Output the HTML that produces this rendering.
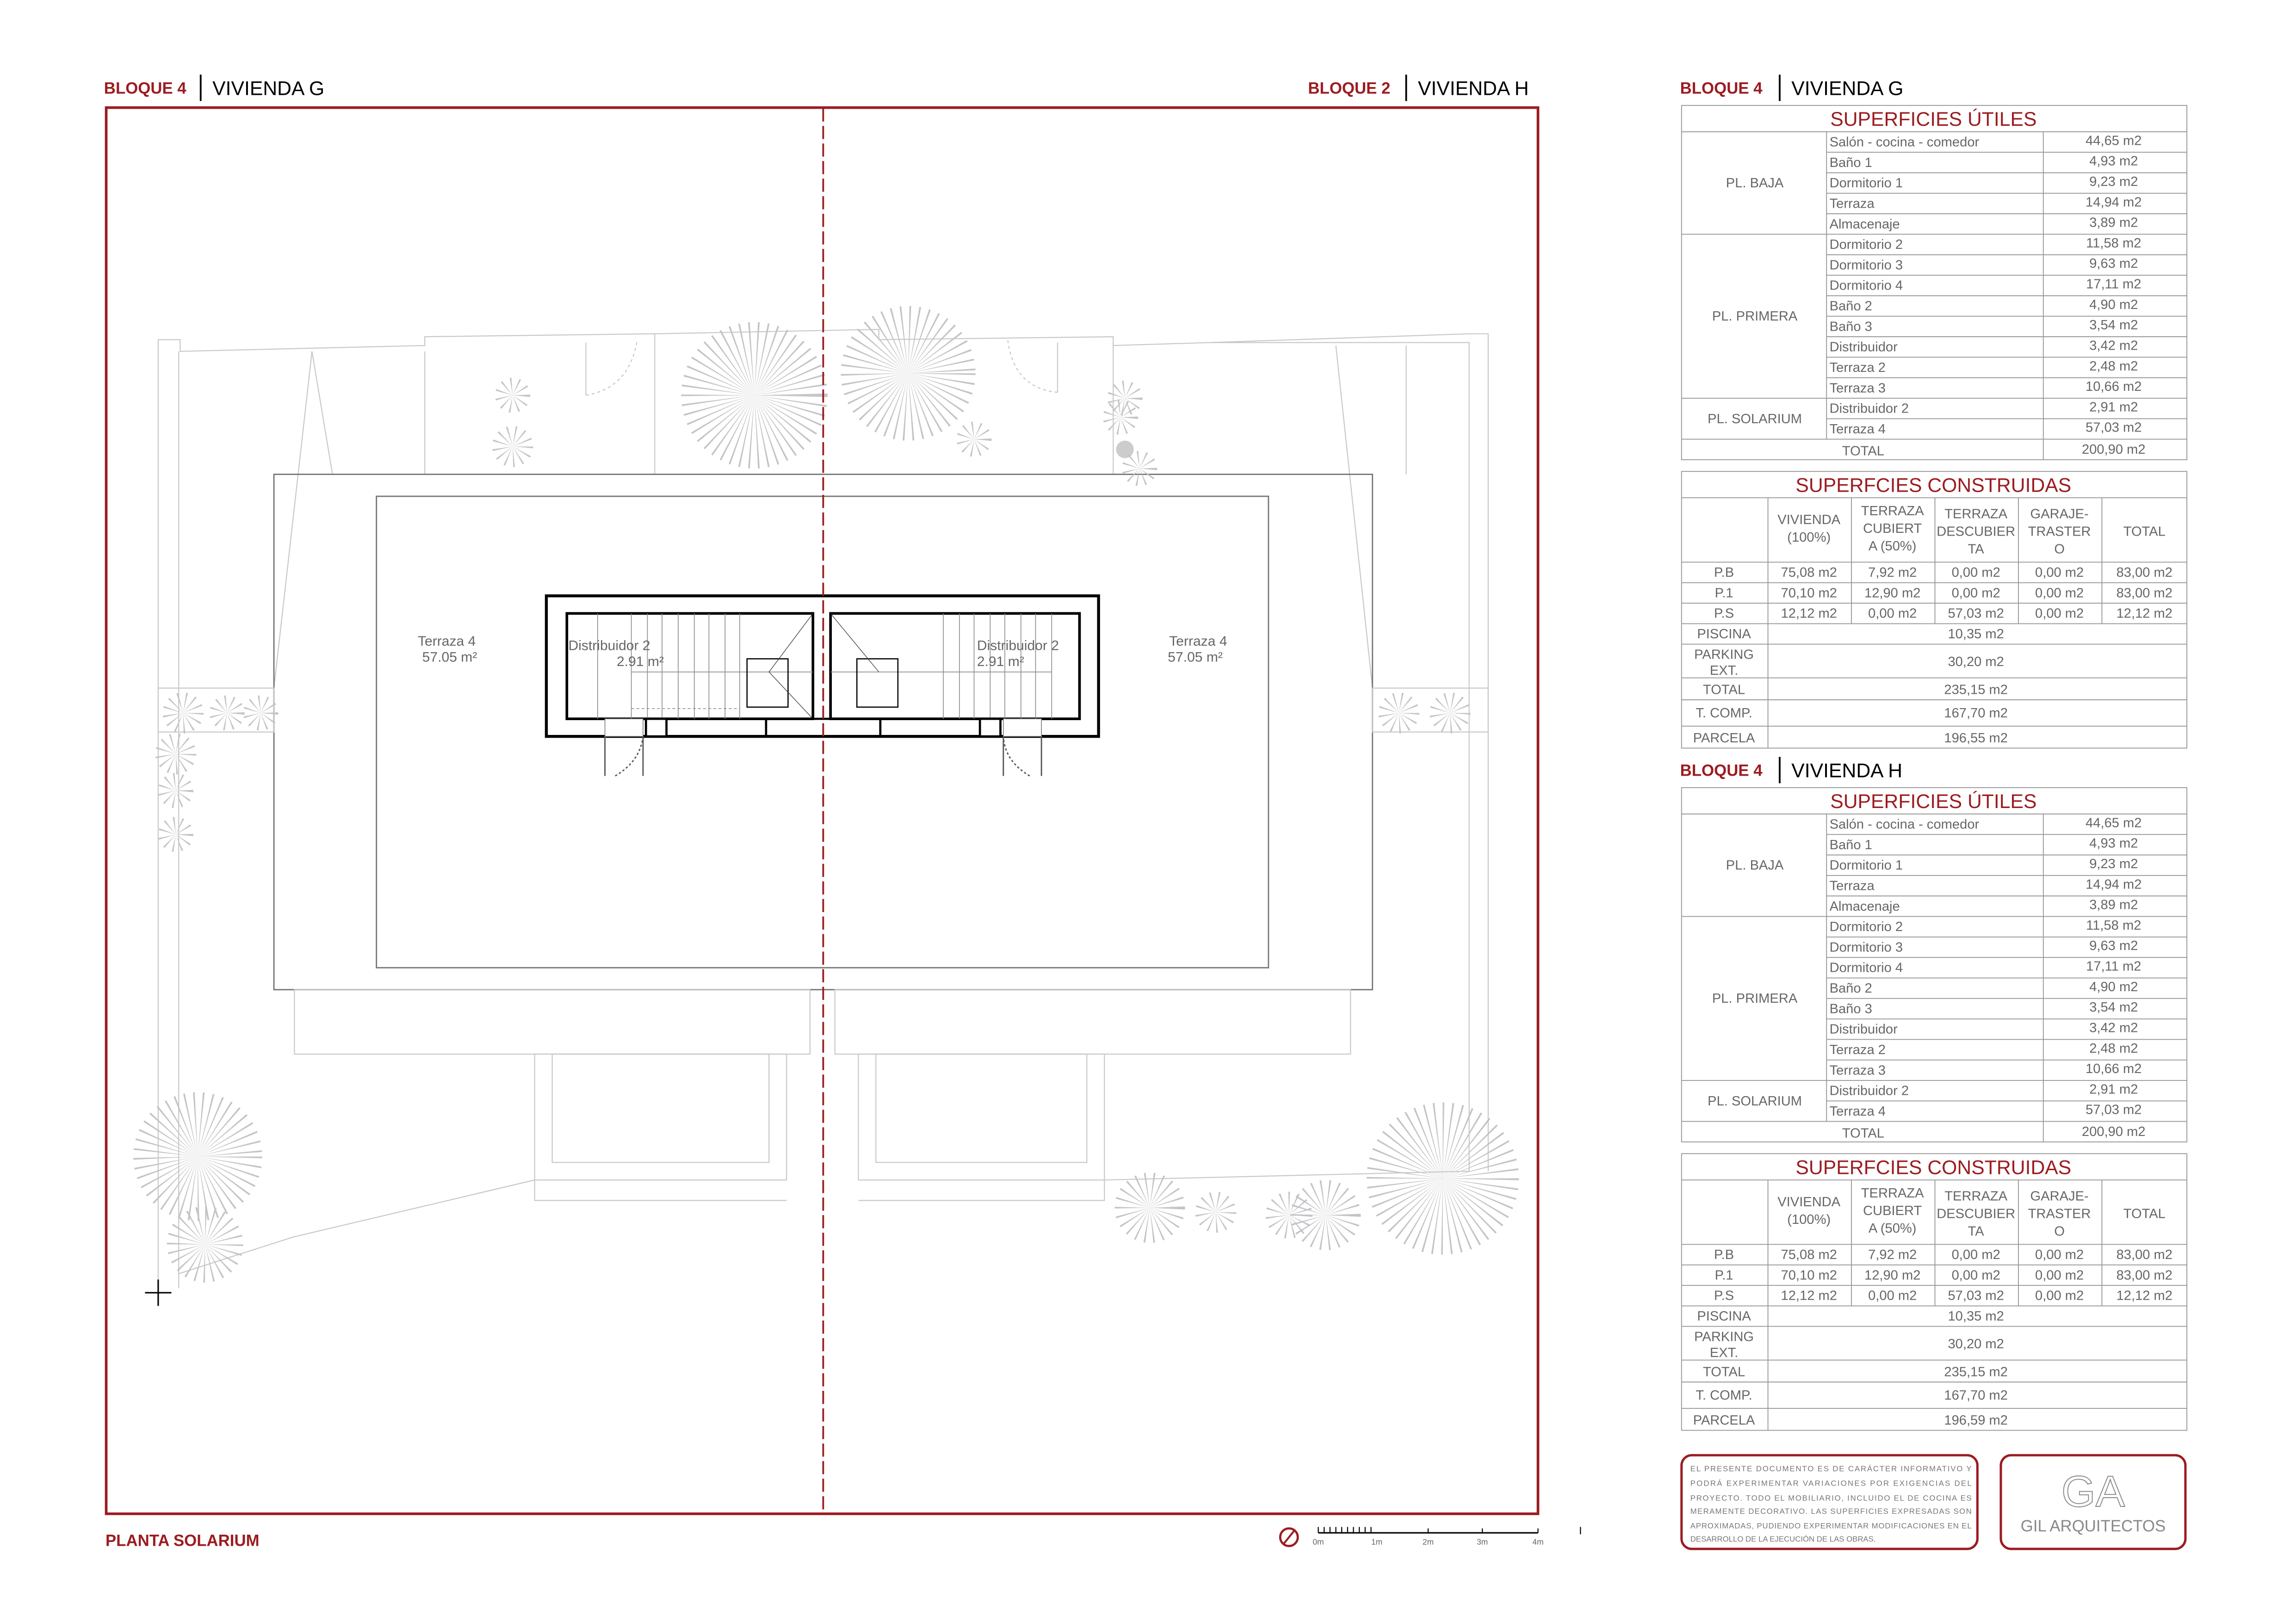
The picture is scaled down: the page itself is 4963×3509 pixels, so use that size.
<!DOCTYPE html>
<html><head><meta charset="utf-8"><style>
html,body{margin:0;padding:0;background:#fff}
svg{display:block}
text{font-family:"Liberation Sans",sans-serif}
.t{font-size:9.2px;fill:#666}
.c{text-anchor:middle}
.r{fill:#9b1c20}
.h{font-size:13.5px;fill:#9b1c20;text-anchor:middle}
.g{stroke:#999;stroke-width:0.6;fill:none}
.p{stroke:#c8c8c8;stroke-width:0.7;fill:none}
.pd{stroke:#555;stroke-width:0.9;fill:none}
.tree{fill:none;stroke:#c4c4c8;stroke-dasharray:0.6 2.8}
</style></head><body>
<svg width="4963" height="3509" viewBox="0 0 1567.5 1108.6" preserveAspectRatio="none" xmlns="http://www.w3.org/2000/svg">
<rect x="0" y="0" width="1567.5" height="1108.6" fill="#fff"/>

<text x="71" y="64" font-size="11" font-weight="bold" class="r">BLOQUE 4</text>
<line x1="137" y1="51" x2="137" y2="69" stroke="#000" stroke-width="1.2"/>
<text x="145" y="65" font-size="13.5" fill="#000">VIVIENDA G</text>
<text x="893" y="64" font-size="11" font-weight="bold" class="r">BLOQUE 2</text>
<line x1="960" y1="51" x2="960" y2="69" stroke="#000" stroke-width="1.2"/>
<text x="968" y="65" font-size="13.5" fill="#000">VIVIENDA H</text>

<g>
 <polyline class="p" points="108,880 108,232 123,232 123,240 290,236 290,230 447,228 447,232"/>
 <polyline class="p" points="122,880 122,240"/>
 <line class="p" x1="213" y1="240" x2="187" y2="470"/>
 <line class="p" x1="213" y1="240" x2="227" y2="324"/>
 <line class="p" x1="290" y1="240" x2="290" y2="324"/>
 <line class="p" x1="447" y1="232" x2="447" y2="324"/>
 <polyline class="p" points="447,228 600,225 600,232 760,230 760,236 826,234 1003,234 1003,800"/>
 <polyline class="p" points="826,234 1003,228 1016,228 1016,800"/>
 <line class="p" x1="760" y1="236" x2="760" y2="324"/>
 <line class="p" x1="912" y1="236" x2="937" y2="470"/>
 <line class="p" x1="960" y1="236" x2="960" y2="324"/>
 <line class="p" x1="400" y1="234" x2="400" y2="270"/><path class="p" d="M400,270 Q430,265 435,232" stroke-dasharray="2 2"/>
 <line class="p" x1="722" y1="234" x2="722" y2="268"/><path class="p" d="M722,268 Q692,265 688,232" stroke-dasharray="2 2"/>
 <rect x="187" y="324" width="750" height="352" fill="none" stroke="#777" stroke-width="0.9"/>
 <rect x="257" y="339" width="609" height="322" fill="none" stroke="#777" stroke-width="0.9"/>
 <rect class="p" x="201" y="676" width="352" height="44"/>
 <rect class="p" x="570" y="676" width="352" height="44"/>
 <rect class="p" x="365" y="720" width="172" height="86"/>
 <rect class="p" x="377" y="720" width="148" height="74"/>
 <rect class="p" x="586" y="720" width="168" height="86"/>
 <rect class="p" x="598" y="720" width="144" height="74"/>
 <polyline class="p" points="122,870 200,845 365,806 365,820 537,820"/>
 <polyline class="p" points="586,820 754,820 754,806 1003,800"/>
 <rect class="p" x="108" y="470" width="79" height="30"/>
 <rect class="p" x="937" y="470" width="79" height="30"/>
 <circle class="tree" cx="515" cy="270" r="25" stroke-width="50"/>
 <circle class="tree" cx="620" cy="255" r="23" stroke-width="46"/>
 <circle class="tree" cx="350" cy="270" r="6" stroke-width="12" stroke-dasharray="0.8 1.2"/>
 <circle class="tree" cx="350" cy="305" r="7" stroke-width="14" stroke-dasharray="0.8 1.2"/>
 <circle class="tree" cx="665" cy="300" r="6" stroke-width="12" stroke-dasharray="0.8 1.2"/>
 <circle class="tree" cx="768" cy="272" r="6" stroke-width="12" stroke-dasharray="0.8 1.2"/>
 <circle class="tree" cx="765" cy="285" r="6" stroke-width="12" stroke-dasharray="0.8 1.2"/>
 <circle cx="768" cy="307" r="6" fill="#ccc"/>
 <circle class="tree" cx="778" cy="320" r="6" stroke-width="12" stroke-dasharray="0.8 1.2"/>
 <circle class="tree" cx="125" cy="487" r="7" stroke-width="14" stroke-dasharray="0.8 1.2"/>
 <circle class="tree" cx="155" cy="487" r="6" stroke-width="12" stroke-dasharray="0.8 1.2"/>
 <circle class="tree" cx="178" cy="487" r="6" stroke-width="12" stroke-dasharray="0.8 1.2"/>
 <circle class="tree" cx="120" cy="515" r="7" stroke-width="14" stroke-dasharray="0.8 1.2"/>
 <circle class="tree" cx="120" cy="540" r="6" stroke-width="12" stroke-dasharray="0.8 1.2"/>
 <circle class="tree" cx="120" cy="570" r="6" stroke-width="12" stroke-dasharray="0.8 1.2"/>
 <circle class="tree" cx="955" cy="487" r="7" stroke-width="14" stroke-dasharray="0.8 1.2"/>
 <circle class="tree" cx="990" cy="487" r="7" stroke-width="14" stroke-dasharray="0.8 1.2"/>
 <circle class="tree" cx="135" cy="790" r="22" stroke-width="44"/>
 <circle class="tree" cx="140" cy="850" r="13" stroke-width="26" stroke-dasharray="0.8 1.6"/>
 <circle class="tree" cx="985" cy="805" r="26" stroke-width="52"/>
 <circle class="tree" cx="785" cy="825" r="12" stroke-width="24" stroke-dasharray="0.8 1.6"/>
 <circle class="tree" cx="830" cy="828" r="7" stroke-width="14" stroke-dasharray="0.8 1.2"/>
 <circle class="tree" cx="880" cy="830" r="8" stroke-width="16" stroke-dasharray="0.8 1.2"/>
 <circle class="tree" cx="905" cy="830" r="12" stroke-width="24" stroke-dasharray="0.8 1.6"/>
 <line x1="99" y1="883" x2="117" y2="883" stroke="#000" stroke-width="1"/>
 <line x1="108" y1="874" x2="108" y2="892" stroke="#000" stroke-width="1"/>
 <rect x="373" y="407" width="377" height="96" fill="#fff" stroke="#000" stroke-width="2"/>
 <rect x="387" y="419" width="168" height="72" fill="#fff" stroke="#000" stroke-width="1.8"/>
 <rect x="567" y="419" width="170" height="72" fill="#fff" stroke="#000" stroke-width="1.8"/>
 <g stroke="#888" stroke-width="0.5">
  <line x1="408" y1="419" x2="408" y2="491"/>
  <line x1="431" y1="419" x2="431" y2="491"/><line x1="442" y1="419" x2="442" y2="491"/><line x1="452" y1="419" x2="452" y2="491"/><line x1="463" y1="419" x2="463" y2="491"/><line x1="474" y1="419" x2="474" y2="491"/><line x1="484" y1="419" x2="484" y2="491"/><line x1="495" y1="419" x2="495" y2="491"/><line x1="505" y1="419" x2="505" y2="491"/>
  <line x1="431" y1="459" x2="555" y2="459"/>
  <line x1="431" y1="484" x2="505" y2="484" stroke-dasharray="2 1.5"/>
  <line x1="644" y1="419" x2="644" y2="491"/><line x1="655" y1="419" x2="655" y2="491"/><line x1="665" y1="419" x2="665" y2="491"/><line x1="676" y1="419" x2="676" y2="491"/><line x1="686" y1="419" x2="686" y2="491"/><line x1="697" y1="419" x2="697" y2="491"/><line x1="707" y1="419" x2="707" y2="491"/><line x1="718" y1="419" x2="718" y2="491"/>
  <line x1="567" y1="459" x2="718" y2="459"/>
 </g>
 <rect x="510" y="450" width="28" height="33" fill="none" stroke="#000" stroke-width="0.8"/>
 <rect x="585" y="450" width="28" height="33" fill="none" stroke="#000" stroke-width="0.8"/>
 <polyline points="555,419 525,459 555,491" fill="none" stroke="#333" stroke-width="0.4"/>
 <polyline points="567,419 600,459" fill="none" stroke="#333" stroke-width="0.4"/>
 <rect x="441" y="491" width="14" height="12" fill="#fff" stroke="#000" stroke-width="1.5"/>
 <rect x="523" y="491" width="78" height="12" fill="none" stroke="#000" stroke-width="1.5"/>
 <rect x="669" y="491" width="14" height="12" fill="#fff" stroke="#000" stroke-width="1.5"/>
 <line class="pd" x1="413" y1="503" x2="413" y2="530"/>
 <line class="pd" x1="439" y1="503" x2="439" y2="530"/>
 <line class="pd" x1="685" y1="503" x2="685" y2="530"/>
 <line class="pd" x1="711" y1="503" x2="711" y2="530"/>
 <rect x="413" y="491" width="26" height="12" fill="#fff" stroke="#777" stroke-width="0.5"/>
 <rect x="685" y="491" width="26" height="12" fill="#fff" stroke="#777" stroke-width="0.5"/>
 <path d="M420,530 Q437,520 439,503" class="pd" stroke-dasharray="1.5 1.5" stroke-width="0.5"/>
 <path d="M703,530 Q686,520 685,503" class="pd" stroke-dasharray="1.5 1.5" stroke-width="0.5"/>
 <text x="305" y="441" font-size="9.5" fill="#666" class="c">Terraza 4</text>
 <text x="307" y="452" font-size="9.5" fill="#666" class="c">57.05 m²</text>
 <text x="818" y="441" font-size="9.5" fill="#666" class="c">Terraza 4</text>
 <text x="816" y="452" font-size="9.5" fill="#666" class="c">57.05 m²</text>
 <text x="388" y="444" font-size="9.5" fill="#666">Distribuidor 2</text>
 <text x="421" y="455" font-size="9.5" fill="#666">2.91 m²</text>
 <text x="667" y="444" font-size="9.5" fill="#666">Distribuidor 2</text>
 <text x="667" y="455" font-size="9.5" fill="#666">2.91 m²</text>
</g>

<rect x="72.5" y="73.5" width="977.5" height="960.5" fill="none" stroke="#9b1c20" stroke-width="1.8"/>
<line x1="562" y1="74" x2="562" y2="1034" stroke="#9b1c20" stroke-width="1.2" stroke-dasharray="9 3"/>

<text x="72" y="1056" font-size="11" font-weight="bold" class="r">PLANTA SOLARIUM</text>
<circle cx="880" cy="1050" r="6" fill="none" stroke="#9b1c20" stroke-width="1.5"/>
<line x1="876" y1="1055" x2="884" y2="1045" stroke="#9b1c20" stroke-width="1.3"/>
<line x1="900" y1="1047" x2="1050" y2="1047" stroke="#000" stroke-width="1"/>
<g stroke="#000" stroke-width="0.7">
<line x1="900" y1="1043" x2="900" y2="1047"/><line x1="904" y1="1043" x2="904" y2="1047"/><line x1="908" y1="1043" x2="908" y2="1047"/><line x1="912" y1="1043" x2="912" y2="1047"/><line x1="916" y1="1043" x2="916" y2="1047"/><line x1="920" y1="1043" x2="920" y2="1047"/><line x1="924" y1="1043" x2="924" y2="1047"/><line x1="928" y1="1043" x2="928" y2="1047"/><line x1="932" y1="1043" x2="932" y2="1047"/><line x1="936" y1="1043" x2="936" y2="1047"/>
<line x1="975" y1="1044" x2="975" y2="1047"/><line x1="1012" y1="1044" x2="1012" y2="1047"/><line x1="1050" y1="1044" x2="1050" y2="1047"/>
<line x1="1079" y1="1043" x2="1079" y2="1048"/>
</g>
<g font-size="5.5" fill="#666"><text x="900" y="1055" class="c">0m</text><text x="940" y="1055" class="c">1m</text><text x="975" y="1055" class="c">2m</text><text x="1012" y="1055" class="c">3m</text><text x="1050" y="1055" class="c">4m</text></g>

<g id="tabG">
 <text x="1147" y="64" font-size="11" font-weight="bold" class="r">BLOQUE 4</text>
 <line x1="1215" y1="51" x2="1215" y2="69" stroke="#000" stroke-width="1.2"/>
 <text x="1223" y="65" font-size="13.5" fill="#000">VIVIENDA G</text>
 <rect class="g" x="1148" y="72" width="345" height="242"/>
 <line class="g" x1="1148" y1="90" x2="1493" y2="90"/>
 <line class="g" x1="1247" y1="90" x2="1247" y2="300"/>
 <line class="g" x1="1395" y1="90" x2="1395" y2="314"/>
 <g class="g">
  <line x1="1247" y1="104" x2="1493" y2="104"/><line x1="1247" y1="118" x2="1493" y2="118"/><line x1="1247" y1="132" x2="1493" y2="132"/><line x1="1247" y1="146" x2="1493" y2="146"/>
  <line x1="1148" y1="160" x2="1493" y2="160"/>
  <line x1="1247" y1="174" x2="1493" y2="174"/><line x1="1247" y1="188" x2="1493" y2="188"/><line x1="1247" y1="202" x2="1493" y2="202"/><line x1="1247" y1="216" x2="1493" y2="216"/><line x1="1247" y1="230" x2="1493" y2="230"/><line x1="1247" y1="244" x2="1493" y2="244"/><line x1="1247" y1="258" x2="1493" y2="258"/>
  <line x1="1148" y1="272" x2="1493" y2="272"/>
  <line x1="1247" y1="286" x2="1493" y2="286"/>
  <line x1="1148" y1="300" x2="1493" y2="300"/>
 </g>
 <text x="1320" y="86" class="h">SUPERFICIES ÚTILES</text>
 <g class="t">
  <text x="1198" y="128" class="c">PL. BAJA</text>
  <text x="1198" y="219" class="c">PL. PRIMERA</text>
  <text x="1198" y="289" class="c">PL. SOLARIUM</text>
  <text x="1272" y="311" class="c">TOTAL</text>
  <text x="1249" y="100">Salón - cocina - comedor</text>
  <text x="1249" y="114">Baño 1</text>
  <text x="1249" y="128">Dormitorio 1</text>
  <text x="1249" y="142">Terraza</text>
  <text x="1249" y="156">Almacenaje</text>
  <text x="1249" y="170">Dormitorio 2</text>
  <text x="1249" y="184">Dormitorio 3</text>
  <text x="1249" y="198">Dormitorio 4</text>
  <text x="1249" y="212">Baño 2</text>
  <text x="1249" y="226">Baño 3</text>
  <text x="1249" y="240">Distribuidor</text>
  <text x="1249" y="254">Terraza 2</text>
  <text x="1249" y="268">Terraza 3</text>
  <text x="1249" y="282">Distribuidor 2</text>
  <text x="1249" y="296">Terraza 4</text>
  <g class="c">
  <text x="1443" y="99">44,65 m2</text><text x="1443" y="113">4,93 m2</text><text x="1443" y="127">9,23 m2</text><text x="1443" y="141">14,94 m2</text><text x="1443" y="155">3,89 m2</text>
  <text x="1443" y="169">11,58 m2</text><text x="1443" y="183">9,63 m2</text><text x="1443" y="197">17,11 m2</text><text x="1443" y="211">4,90 m2</text><text x="1443" y="225">3,54 m2</text><text x="1443" y="239">3,42 m2</text><text x="1443" y="253">2,48 m2</text><text x="1443" y="267">10,66 m2</text>
  <text x="1443" y="281">2,91 m2</text><text x="1443" y="295">57,03 m2</text><text x="1443" y="310">200,90 m2</text>
  </g>
 </g>
 <rect class="g" x="1148" y="322" width="345" height="189"/>
 <g class="g">
  <line x1="1148" y1="340" x2="1493" y2="340"/>
  <line x1="1148" y1="384" x2="1493" y2="384"/>
  <line x1="1148" y1="398" x2="1493" y2="398"/>
  <line x1="1148" y1="412" x2="1493" y2="412"/>
  <line x1="1148" y1="426" x2="1493" y2="426"/>
  <line x1="1148" y1="440" x2="1493" y2="440"/>
  <line x1="1148" y1="463" x2="1493" y2="463"/>
  <line x1="1148" y1="478" x2="1493" y2="478"/>
  <line x1="1148" y1="496" x2="1493" y2="496"/>
  <line x1="1207" y1="340" x2="1207" y2="511"/>
  <line x1="1264" y1="340" x2="1264" y2="426"/>
  <line x1="1321" y1="340" x2="1321" y2="426"/>
  <line x1="1378" y1="340" x2="1378" y2="426"/>
  <line x1="1435" y1="340" x2="1435" y2="426"/>
 </g>
 <text x="1320" y="336" class="h">SUPERFCIES CONSTRUIDAS</text>
 <g class="t" font-size="9">
  <text x="1235" y="358" class="c">VIVIENDA</text><text x="1235" y="370" class="c">(100%)</text>
  <text x="1292" y="352" class="c">TERRAZA</text><text x="1292" y="364" class="c">CUBIERT</text><text x="1292" y="376" class="c">A (50%)</text>
  <text x="1349" y="354" class="c">TERRAZA</text><text x="1349" y="366" class="c">DESCUBIER</text><text x="1349" y="378" class="c">TA</text>
  <text x="1406" y="354" class="c">GARAJE-</text><text x="1406" y="366" class="c">TRASTER</text><text x="1406" y="378" class="c">O</text>
  <text x="1464" y="366" class="c">TOTAL</text>
  <text x="1177" y="394" class="c">P.B</text><text x="1177" y="408" class="c">P.1</text><text x="1177" y="422" class="c">P.S</text>
  <text x="1177" y="436" class="c">PISCINA</text>
  <text x="1177" y="450" class="c">PARKING</text><text x="1177" y="461" class="c">EXT.</text>
  <text x="1177" y="474" class="c">TOTAL</text>
  <text x="1177" y="490" class="c">T. COMP.</text>
  <text x="1177" y="507" class="c">PARCELA</text>
  <text x="1235" y="394" class="c">75,08 m2</text><text x="1292" y="394" class="c">7,92 m2</text><text x="1349" y="394" class="c">0,00 m2</text><text x="1406" y="394" class="c">0,00 m2</text><text x="1464" y="394" class="c">83,00 m2</text>
  <text x="1235" y="408" class="c">70,10 m2</text><text x="1292" y="408" class="c">12,90 m2</text><text x="1349" y="408" class="c">0,00 m2</text><text x="1406" y="408" class="c">0,00 m2</text><text x="1464" y="408" class="c">83,00 m2</text>
  <text x="1235" y="422" class="c">12,12 m2</text><text x="1292" y="422" class="c">0,00 m2</text><text x="1349" y="422" class="c">57,03 m2</text><text x="1406" y="422" class="c">0,00 m2</text><text x="1464" y="422" class="c">12,12 m2</text>
  <text x="1349" y="436" class="c">10,35 m2</text>
  <text x="1349" y="455" class="c">30,20 m2</text>
  <text x="1349" y="474" class="c">235,15 m2</text>
  <text x="1349" y="490" class="c">167,70 m2</text>
 </g>
</g>
<text x="1349" y="507" class="t c">196,55 m2</text>

<g transform="translate(0,466)">
 <use href="#tabG"/>
</g>
<rect x="1220" y="515" width="100" height="20" fill="#fff"/>
<text x="1223" y="531" font-size="13.5" fill="#000">VIVIENDA H</text>
<rect x="1310" y="965" width="80" height="11" fill="#fff"/>
<text x="1349" y="973" class="t c">196,59 m2</text>

<rect x="1148" y="994" width="202" height="64" rx="7" fill="none" stroke="#9b1c20" stroke-width="1.6"/>
<g font-size="5.3" fill="#777">
 <text x="1154" y="1005" textLength="192" lengthAdjust="spacing">EL PRESENTE DOCUMENTO ES DE CARÁCTER INFORMATIVO Y</text>
 <text x="1154" y="1015" textLength="192" lengthAdjust="spacing">PODRÁ EXPERIMENTAR VARIACIONES POR EXIGENCIAS DEL</text>
 <text x="1154" y="1025" textLength="192" lengthAdjust="spacing">PROYECTO. TODO EL MOBILIARIO, INCLUIDO EL DE COCINA ES</text>
 <text x="1154" y="1034" textLength="192" lengthAdjust="spacing">MERAMENTE DECORATIVO. LAS SUPERFICIES EXPRESADAS SON</text>
 <text x="1154" y="1044" textLength="192" lengthAdjust="spacing">APROXIMADAS, PUDIENDO EXPERIMENTAR MODIFICACIONES EN EL</text>
 <text x="1154" y="1053">DESARROLLO DE LA EJECUCIÓN DE LAS OBRAS.</text>
</g>
<rect x="1366" y="994" width="126" height="64" rx="7" fill="none" stroke="#9b1c20" stroke-width="1.6"/>
<text x="1429" y="1029" font-size="30" fill="none" stroke="#888" stroke-width="0.6" class="c">GA</text>
<text x="1429" y="1046" font-size="11" fill="#888" class="c">GIL ARQUITECTOS</text>
</svg>
</body></html>
